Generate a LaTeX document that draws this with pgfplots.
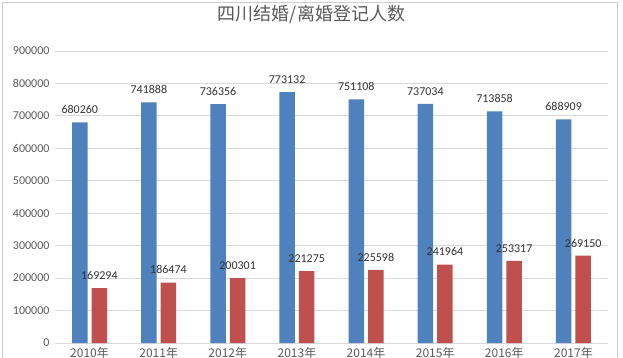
\documentclass[border=0pt]{standalone}
\usepackage{pgfplots}
\pgfplotsset{compat=1.18}
\usepackage{fontspec}
\setmainfont{Carlito}
\newfontfamily\cjk{Noto Sans CJK SC}
\definecolor{bblue}{HTML}{4F81BD}
\definecolor{rred}{HTML}{C0504D}
\definecolor{gridc}{HTML}{D9D9D9}
\definecolor{txt}{HTML}{595959}
\begin{document}
\begin{tikzpicture}[x=1pt,y=1pt]
\clip (-55,-14) rectangle (568,343);
\fill[white] (-55,-14) rectangle (568,343);
\draw[black!20] (-52.5,-20) rectangle (562.5,340.5);
\begin{axis}[
  at={(0,0)}, anchor=south west,
  scale only axis, width=553pt, height=292pt,
  xmin=-0.5, xmax=7.5, ymin=0, ymax=900000,
  ytick distance=100000,
  scaled y ticks=false,
  /pgf/number format/.cd, fixed, 1000 sep={}, assume math mode=true,
  /pgfplots/.cd,
  ymajorgrids, grid style={gridc, line width=0.8pt},
  axis line style={draw=none},
  major tick length=0pt,
  xtick={0,...,7},
  xticklabels={2010年,2011年,2012年,2013年,2014年,2015年,2016年,2017年},
  xticklabel style={font=\cjk\fontsize{12}{12}\selectfont, text=txt, yshift=-1pt},
  yticklabel style={font=\fontsize{12}{12}\selectfont, text=txt, xshift=-2pt},
  title={四川结婚/离婚登记人数},
  title style={font=\cjk\fontsize{18}{18}\selectfont, text=txt, at={(0.5,1)}, anchor=center, yshift=31pt, xshift=-20pt},
  ybar, bar width=15.5pt,
  point meta=explicit symbolic,
  nodes near coords,
  nodes near coords style={font=\fontsize{12}{12}\selectfont, text=black!80, yshift=5pt},
]
\addplot[fill=bblue, draw=none, bar shift=-9.8pt] coordinates {
  (0,680260) [680260] (1,741888) [741888] (2,736356) [736356] (3,773132) [773132]
  (4,751108) [751108] (5,737034) [737034] (6,713858) [713858] (7,688909) [688909]};
\addplot[fill=rred, draw=none, bar shift=9.8pt] coordinates {
  (0,169294) [169294] (1,186474) [186474] (2,200301) [200301] (3,221275) [221275]
  (4,225598) [225598] (5,241964) [241964] (6,253317) [253317] (7,269150) [269150]};
\end{axis}
\end{tikzpicture}
\end{document}
